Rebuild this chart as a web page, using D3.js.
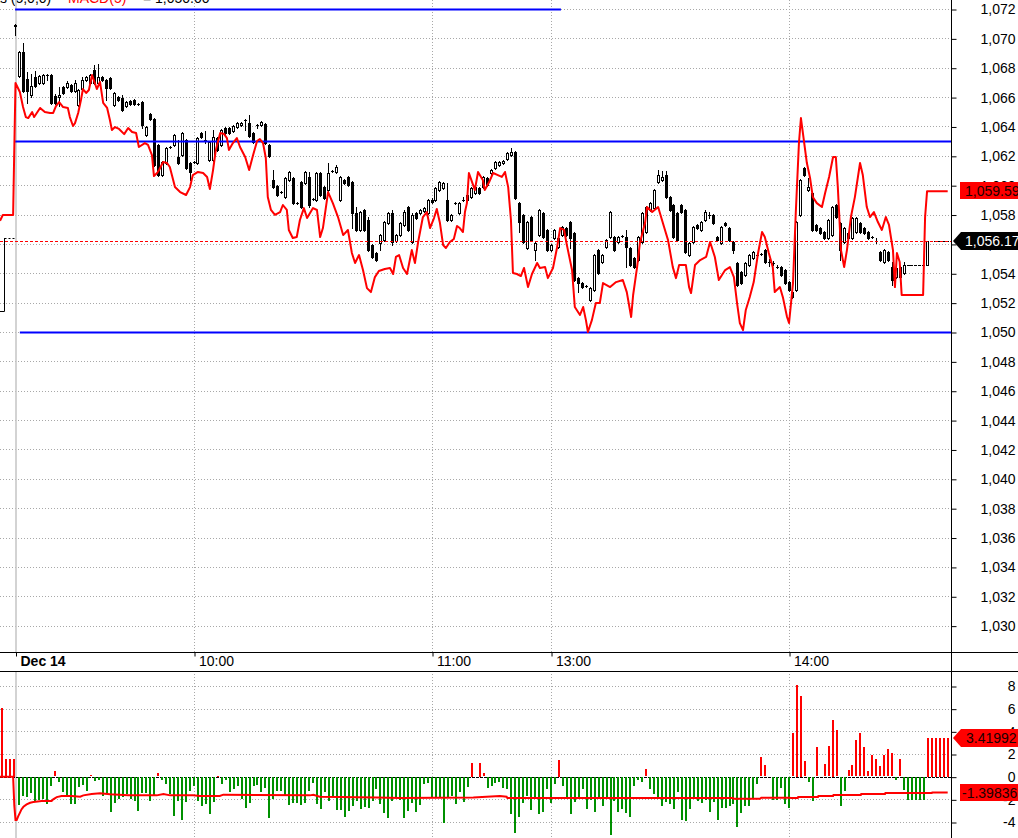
<!DOCTYPE html>
<html><head><meta charset="utf-8">
<script src="https://cdn.jsdelivr.net/npm/d3@7/dist/d3.min.js"></script>
<style>body{margin:0;background:#fff}svg{display:block;font-family:"Liberation Sans",Arial,sans-serif}</style>
</head><body><svg id="c" width="1018" height="838"></svg>
<script>
// ---------- DATA ----------
const open = [
1070.91,1067.44,1069.07,1067.23,1066.14,1067.37,1066.96,1066.96,1067.50,1067.50,
1066.07,1066.00,1066.69,1066.69,1066.82,1066.41,1065.46,1066.55,1067.16,1066.96,
1067.84,1066.96,1067.37,1067.16,1067.30,1065.46,1066.00,1065.94,1065.39,1065.73,
1065.80,1065.53,1065.66,1063.42,1064.85,1064.51,1062.74,1060.69,1061.51,1062.60,
1062.74,1061.92,1062.05,1063.08,1061.51,1061.58,1061.51,1063.55,1063.08,1061.71,
1061.71,1063.21,1062.74,1063.89,1063.89,1063.69,1063.96,1064.10,1064.44,1064.23,
1063.55,1064.10,1064.10,1064.17,1062.74,1060.35,1059.94,1059.53,1059.19,1060.35,
1060.49,1058.78,1060.21,1060.15,1060.56,1059.06,1058.99,1060.83,1059.87,1059.67,
1060.97,1060.90,1058.99,1060.35,1060.56,1060.21,1058.10,1056.95,1058.31,1057.63,
1055.92,1055.38,1056.06,1056.26,1057.42,1058.10,1056.20,1056.60,1057.29,1058.51,
1056.13,1058.10,1058.10,1058.24,1058.10,1058.99,1058.99,1059.67,1059.80,1058.99,
1057.63,1058.78,1058.10,1058.99,1058.99,1059.19,1059.46,1059.80,1059.87,1060.49,
1060.83,1061.17,1061.37,1061.51,1061.78,1062.05,1062.26,1058.78,1057.97,1055.72,
1057.83,1055.58,1056.60,1058.10,1056.95,1055.58,1056.40,1055.79,1056.60,1057.08,
1057.49,1056.74,1053.67,1053.33,1053.13,1052.18,1052.86,1055.58,1054.77,1055.79,
1056.47,1056.47,1056.13,1056.54,1056.47,1055.72,1055.04,1054.90,1056.13,1056.81,
1058.31,1058.44,1060.21,1060.35,1060.69,1059.19,1058.65,1058.10,1058.65,1058.31,
1055.24,1056.13,1057.29,1056.95,1057.63,1057.97,1057.97,1056.47,1056.06,1057.42,
1057.08,1056.13,1054.70,1054.08,1053.88,1054.56,1055.04,1055.24,1055.31,1055.58,
1054.77,1054.70,1054.42,1054.42,1054.22,1053.40,1052.72,1052.86,1057.97,1061.17,
1059.67,1059.46,1057.29,1057.08,1056.81,1056.40,1056.60,1058.65,1057.42,1056.13,
1056.74,1056.40,1056.81,1057.42,1057.08,1056.81,1056.47,1056.20,1055.45,1054.77,
1055.45,1054.42,1053.74,1054.42,1054.02,1054.56,1054.56,1054.56,1054.56,1054.56,
1054.56,1056.17,1056.17,1056.17,1056.17,1056.17];
const high = [
1070.98,1069.14,1069.68,1067.71,1067.57,1067.78,1067.50,1067.57,1067.57,1067.57,
1066.20,1066.69,1066.75,1067.10,1066.89,1067.16,1066.55,1067.37,1067.44,1067.57,
1068.19,1068.25,1067.44,1067.23,1067.37,1066.35,1066.07,1066.14,1065.73,1065.80,
1065.87,1065.60,1065.73,1064.03,1064.92,1064.57,1062.80,1061.65,1062.60,1062.67,
1063.48,1063.08,1063.62,1063.14,1061.58,1061.65,1063.28,1063.62,1063.69,1063.01,
1063.76,1063.28,1063.83,1063.96,1063.96,1064.10,1064.30,1064.30,1064.51,1064.78,
1063.62,1064.17,1064.37,1064.23,1062.80,1061.03,1060.01,1059.60,1060.56,1060.97,
1060.56,1058.85,1060.28,1060.97,1060.90,1059.12,1060.90,1060.90,1059.94,1061.51,
1061.03,1061.37,1060.62,1060.42,1060.62,1060.28,1058.51,1058.24,1058.38,1057.83,
1055.99,1055.45,1056.67,1057.56,1058.17,1058.31,1056.67,1057.49,1058.31,1058.58,
1058.10,1058.17,1058.38,1058.51,1059.06,1059.12,1059.87,1060.28,1060.21,1060.15,
1058.03,1058.85,1058.85,1059.19,1059.40,1059.87,1059.94,1059.87,1060.62,1060.56,
1061.10,1061.65,1061.65,1061.71,1062.26,1062.53,1062.33,1058.85,1058.03,1057.56,
1057.90,1056.13,1058.38,1058.17,1057.01,1055.99,1057.01,1056.47,1057.22,1057.15,
1057.56,1056.81,1053.74,1053.40,1053.20,1053.06,1055.31,1055.65,1055.31,1056.33,
1058.24,1056.54,1056.54,1056.60,1056.95,1055.79,1055.11,1056.54,1058.17,1058.58,
1058.85,1059.74,1061.03,1060.97,1060.97,1059.26,1058.72,1058.17,1058.72,1058.38,
1056.13,1057.22,1057.35,1057.56,1058.31,1058.17,1058.03,1056.54,1057.22,1057.49,
1057.15,1056.20,1054.77,1054.15,1054.77,1055.31,1055.52,1055.31,1055.38,1055.65,
1054.97,1054.83,1054.56,1054.49,1054.29,1053.47,1052.79,1057.56,1060.42,1061.24,
1060.49,1059.53,1057.35,1057.15,1056.88,1057.70,1058.58,1058.72,1057.49,1057.15,
1056.81,1057.83,1057.83,1057.49,1057.15,1056.88,1056.54,1056.40,1055.52,1055.65,
1055.52,1054.77,1054.42,1054.49,1054.77,1054.56,1054.56,1054.56,1054.56,1054.56,
1056.17,1056.17,1056.17,1056.17,1056.17,1056.17];
const low = [
1070.23,1067.37,1066.35,1065.60,1066.00,1066.69,1066.89,1066.89,1067.16,1065.53,
1065.50,1065.39,1066.21,1066.62,1066.35,1066.35,1065.39,1066.48,1067.10,1066.89,
1066.89,1066.89,1067.10,1065.80,1066.55,1065.39,1065.73,1065.05,1065.32,1065.46,
1065.46,1065.46,1063.89,1063.35,1064.44,1061.30,1060.62,1060.62,1061.44,1062.53,
1062.67,1061.44,1061.99,1061.10,1060.35,1061.51,1061.44,1063.21,1062.87,1061.65,
1061.65,1062.33,1062.67,1063.48,1063.48,1063.62,1063.89,1064.03,1063.76,1063.28,
1062.87,1063.89,1064.03,1062.80,1061.92,1059.80,1059.26,1059.46,1059.12,1060.28,
1058.72,1058.72,1058.44,1060.08,1058.51,1058.99,1058.92,1059.26,1059.06,1059.60,
1060.90,1060.83,1058.92,1060.08,1059.94,1057.08,1056.88,1056.88,1056.88,1055.52,
1055.04,1054.83,1055.58,1056.20,1057.35,1055.92,1056.13,1056.54,1057.22,1056.88,
1056.06,1057.69,1058.03,1058.17,1058.03,1058.78,1058.92,1059.60,1059.74,1057.56,
1057.56,1058.72,1058.03,1058.92,1058.92,1059.12,1059.40,1059.40,1059.80,1059.94,
1060.76,1061.10,1061.30,1061.44,1061.71,1061.99,1059.06,1056.81,1056.06,1055.65,
1056.20,1054.90,1056.54,1056.40,1055.52,1055.52,1056.33,1055.72,1056.54,1056.54,
1055.72,1053.47,1052.72,1052.99,1053.06,1052.11,1052.79,1053.95,1054.70,1055.72,
1056.40,1055.52,1056.06,1056.47,1054.42,1054.49,1054.35,1054.83,1056.06,1056.74,
1058.24,1058.38,1060.15,1060.28,1059.12,1058.24,1056.40,1056.20,1058.10,1055.38,
1055.17,1056.06,1057.01,1056.88,1057.56,1057.76,1057.35,1056.20,1055.99,1057.22,
1056.20,1055.38,1053.13,1053.26,1053.81,1054.49,1054.97,1055.17,1055.24,1054.70,
1054.49,1054.56,1054.35,1053.81,1053.26,1052.79,1052.31,1052.79,1057.90,1060.62,
1059.60,1056.88,1056.88,1056.67,1056.33,1056.33,1056.54,1057.76,1054.90,1056.06,
1056.33,1056.33,1056.74,1056.74,1056.67,1056.33,1056.40,1056.06,1054.83,1054.70,
1054.83,1053.20,1053.67,1053.67,1053.95,1054.56,1054.56,1054.56,1054.56,1054.56,
1054.56,1056.17,1056.17,1056.17,1056.17,1056.17];
const close = [
1070.84,1069.07,1066.41,1066.41,1066.75,1066.75,1067.44,1067.50,1067.50,1065.60,
1065.60,1066.14,1066.28,1066.96,1066.41,1066.96,1066.48,1067.16,1067.37,1067.50,
1066.96,1067.37,1067.16,1066.62,1066.62,1066.28,1065.80,1065.12,1065.66,1065.53,
1065.53,1065.53,1064.10,1063.96,1064.51,1061.37,1060.69,1061.58,1062.53,1062.60,
1063.42,1061.51,1063.55,1061.17,1060.90,1061.58,1063.21,1063.28,1063.08,1062.94,
1063.28,1062.40,1063.76,1063.55,1063.55,1064.03,1064.23,1064.23,1064.44,1063.35,
1062.94,1064.10,1064.30,1062.87,1061.99,1059.87,1059.33,1059.53,1060.49,1060.90,
1058.78,1058.78,1058.51,1060.90,1058.65,1059.06,1060.83,1059.33,1059.12,1060.83,
1060.97,1061.24,1060.56,1060.15,1060.01,1058.10,1056.95,1058.17,1056.95,1055.58,
1055.11,1054.90,1056.60,1057.49,1058.10,1056.13,1056.60,1057.42,1058.17,1056.95,
1057.97,1057.76,1058.31,1058.44,1058.99,1058.85,1059.80,1060.21,1060.15,1057.63,
1057.97,1058.78,1058.78,1058.99,1059.33,1059.80,1059.87,1059.46,1060.56,1060.01,
1061.03,1061.58,1061.58,1061.65,1062.19,1062.26,1059.12,1057.49,1056.13,1057.49,
1056.26,1056.06,1058.31,1056.47,1055.58,1055.92,1056.95,1056.40,1057.15,1056.60,
1056.40,1053.54,1053.33,1053.06,1053.13,1052.99,1055.24,1054.02,1055.24,1056.26,
1058.17,1055.58,1056.47,1056.54,1055.79,1054.56,1054.42,1056.47,1058.10,1058.51,
1058.78,1059.67,1060.69,1060.56,1059.19,1058.31,1056.47,1056.26,1058.17,1055.45,
1056.06,1057.15,1057.08,1057.49,1058.17,1057.97,1057.42,1056.26,1057.15,1057.29,
1056.26,1055.58,1053.20,1053.33,1054.70,1055.24,1055.45,1055.24,1055.31,1054.77,
1054.77,1054.70,1054.42,1053.88,1053.33,1052.86,1052.38,1057.49,1060.35,1060.69,
1059.87,1056.95,1056.95,1056.74,1056.40,1057.63,1058.51,1057.83,1055.58,1057.08,
1056.40,1057.76,1057.76,1056.81,1056.74,1056.40,1056.47,1056.20,1054.90,1055.58,
1054.90,1053.54,1054.36,1053.74,1054.56,1054.56,1054.56,1054.56,1054.56,1054.56,
1056.17,1056.17,1056.17,1056.17,1056.17,1056.17];

// indicator line (bar position, value)
const lineIdx = [-3.9,-3.2,-0.6,-0.4,0,1.1,1.9,2.6,3.2,4.2,4.7,6.2,7.4,8.7,9.5,10.2,11.0,12.0,13.2,13.7,14.5,15.0,15.8,16.5,17.0,17.8,18.5,19.3,20.0,20.5,21.3,22.1,23.1,23.8,24.3,25.1,26.1,27.4,28.4,29.4,30.4,31.1,32.6,33.4,34.4,34.9,35.7,36.2,37.2,38.2,38.9,40.2,41.5,43.0,44.0,44.7,46.0,47.3,48.3,49.0,49.8,50.5,51.6,52.6,53.3,53.8,54.8,55.8,56.6,57.9,58.9,59.9,60.9,61.6,62.4,63.1,63.6,64.4,65.4,66.7,67.4,68.4,68.9,69.9,70.9,71.7,72.7,73.5,75.0,76.0,76.8,77.5,78.8,80.0,81.3,82.6,83.8,84.8,85.6,86.6,87.6,88.6,89.6,90.6,91.6,93.1,94.4,95.2,95.9,96.7,97.7,98.7,99.9,100.7,101.5,102.7,103.7,104.5,105.5,106.2,107.0,107.8,108.5,109.5,110.5,111.3,112.0,112.8,113.3,113.8,114.3,115.1,115.8,116.6,117.8,118.3,119.4,120.4,121.6,122.6,123.4,124.2,124.9,125.4,126.4,127.4,128.2,129.2,130.2,131.5,132.2,133.5,134.2,135.5,136.5,137.3,138.3,139.0,140.3,141.0,142.3,143.1,143.8,144.3,145.3,146.3,147.3,148.1,149.9,151.4,153.1,154.1,155.2,155.7,156.7,157.4,158.7,159.2,160.5,162.0,163.5,164.5,165.7,166.5,167.3,169.0,169.8,170.3,171.3,172.6,174.1,175.1,176.3,177.3,178.9,180.1,181.1,181.9,182.6,183.4,184.1,185.1,186.1,187.2,188.2,188.9,189.9,190.9,191.4,192.7,193.5,194.5,195.0,196.0,196.7,197.5,198.0,198.5,199.5,200.3,201.0,202.0,203.3,204.1,205.1,206.1,206.8,207.3,208.1,208.9,209.6,210.6,211.6,212.9,213.6,214.6,215.4,216.4,217.4,218.4,219.4,220.2,221.2,221.7,222.2,222.9,223.4,228.8,229.3,229.8,235.0];
const lineVals = [1057.58,1057.97,1057.97,1061.03,1066.96,1066.35,1065.32,1064.64,1064.57,1064.98,1064.64,1065.26,1064.98,1064.92,1064.92,1065.39,1065.66,1065.32,1065.26,1064.64,1064.03,1064.23,1064.92,1065.80,1066.55,1066.28,1066.48,1067.50,1066.96,1066.55,1067.03,1065.60,1065.26,1064.44,1063.76,1063.96,1063.83,1063.48,1063.89,1063.62,1063.55,1062.60,1062.87,1062.74,1062.05,1060.62,1060.83,1061.03,1061.58,1061.51,1061.24,1059.87,1059.53,1059.33,1059.87,1060.69,1060.90,1060.83,1060.56,1059.74,1061.03,1062.40,1063.55,1063.48,1063.21,1062.40,1062.87,1063.21,1062.60,1061.92,1061.03,1062.05,1063.01,1063.14,1062.87,1061.85,1059.19,1058.31,1057.97,1058.17,1058.65,1058.31,1056.95,1056.40,1056.47,1057.63,1058.44,1057.76,1058.44,1058.31,1056.47,1057.08,1059.53,1058.78,1057.83,1056.60,1056.95,1055.38,1054.70,1055.24,1054.22,1052.99,1052.72,1053.74,1054.15,1054.29,1054.36,1053.95,1055.11,1055.24,1054.36,1053.95,1055.58,1054.70,1056.13,1057.83,1058.17,1057.08,1057.76,1058.38,1057.42,1055.92,1055.72,1056.13,1056.33,1057.22,1057.08,1056.81,1058.17,1058.78,1060.83,1060.21,1059.67,1060.90,1060.35,1059.67,1060.21,1060.83,1060.69,1060.56,1060.90,1059.87,1057.63,1054.02,1053.95,1053.81,1054.36,1053.06,1053.95,1054.70,1054.36,1054.42,1053.67,1054.36,1055.72,1057.08,1056.95,1055.92,1054.22,1051.70,1051.16,1051.70,1050.81,1050.00,1050.81,1051.97,1051.97,1053.33,1053.06,1053.40,1053.54,1052.72,1051.02,1052.52,1054.42,1056.06,1057.42,1058.51,1058.17,1058.51,1057.15,1056.26,1054.42,1053.67,1054.56,1054.56,1053.06,1052.65,1054.56,1054.90,1055.11,1056.13,1055.11,1053.54,1054.22,1054.42,1053.74,1051.97,1050.61,1050.13,1051.50,1052.38,1053.40,1055.38,1056.81,1056.47,1055.38,1054.42,1052.72,1053.06,1052.31,1051.02,1050.61,1053.33,1058.10,1062.87,1064.57,1063.55,1061.51,1060.49,1059.19,1058.78,1058.51,1059.47,1060.56,1061.92,1061.92,1059.87,1055.58,1054.42,1055.58,1057.83,1059.19,1061.51,1060.69,1058.51,1057.83,1058.17,1057.49,1056.95,1057.83,1057.29,1055.58,1053.06,1055.38,1054.77,1052.52,1052.52,1057.83,1059.59,1059.59];

// oscillator histogram per bar
const histVals = [
0,-2.5,-1.65,-1.8,-1.4,-2.1,-2.0,-1.95,-2.4,-0.83,
0.47,-0.47,-1.3,-1.65,-2.4,-2.4,-0.9,-0.68,-1.2,0.12,
-0.38,-0.27,-1.7,-1.5,-3.1,-2.3,-1.9,-1.8,-1.5,-1.9,
-2.1,-3.0,-1.4,-1.4,-2.1,-1.7,0.3,-0.3,-0.65,-1.5,
-3.4,-2.15,-3.8,-2.25,-1.2,-0.75,-2.15,-2.6,-2.4,-3.25,
-2.25,0.1,-0.6,-0.3,-1.3,-1.1,-0.83,-1.9,-2.7,-2.3,
-0.83,-0.7,-1.35,-0.95,-3.6,-1.9,-1.27,-1.27,-1.55,-2.45,
-2.3,-2.3,-2.5,-2.3,-1.2,-0.53,-2.35,-2.85,-1.3,-2.1,
-1.65,-2.95,-2.95,-3.55,-3.0,-2.6,-2.15,-2.8,-2.65,-2.7,
-2.1,-1.05,-2.4,-3.2,-3.65,-2.15,-1.8,-2.0,-3.65,-3.0,
-2.3,-3.05,-2.5,-0.6,-0.53,-1.83,-1.83,-1.8,-4.07,-1.8,
-1.65,-2.4,-1.35,-2.2,-0.9,1.2,0,1.25,0.3,-0.97,
-0.83,-0.53,-0.44,-0.95,-1.05,-3.25,-4.95,-3.55,-2.3,-1.65,
-2.9,-1.8,-3.3,-3.1,-1.05,-2.3,-0.6,1.47,-0.77,-1.9,
-3.25,-2.25,-1.8,-1.1,-2.85,-2.05,-3.05,-1.83,-2.55,-1.9,
-5.1,-2.15,-3.1,-2.85,-3.2,-3.55,-0.75,-0.3,-0.47,0.65,
-1.05,-1.5,-1.9,-2.6,-2.25,-2.35,-2.85,-1.35,-3.8,-3.9,
-2.8,-1.95,-2.1,-2.3,-2.0,-3.05,-2.25,-3.8,-2.7,-2.75,
-2.55,-2.35,-4.4,-3.2,-2.55,-2.55,-1.95,-0.6,1.7,1.0,
0,-2.07,-2.07,-1.0,-2.4,-2.77,3.83,8.08,7.14,1.36,
-0.47,-2.15,2.6,0,1.09,2.68,4.99,4.1,-2.54,-1.27,
0.56,1.0,3.22,3.83,2.6,0.47,1.89,1.53,0.91,1.89,
2.42,2.06,-0.3,1.53,-1.18,-2.07,-2.07,-2.07,-2.07,-2.07,
3.42,3.42,3.42,3.42,3.42,3.42];
const prevHistIdx = [-3.5,-2.5,-1.5,-0.5];
const prevHistVals = [6.1,1.6,1.6,1.6];

// oscillator signal line (bar position, value)
const maIdx = [-4,-0.6,-0.3,0,0.3,0.7,1.1,1.5,2,2.8,3.7,4.5,6.6,9.1,9.5,10.4,11.6,14.2,16.3,17.1,19.2,21.3,23.8,28.4,35.6,37.3,39,44.8,46.5,51.5,52.4,74.2,75.1,76.7,91,96.9,115.4,122.1,123.8,124,180.9,181,187.7,188,195.2,195.5,197.2,197.3,202.3,202.4,206.1,206.2,213.1,213.2,219.2,219.3,231,231.1,235];
const maVals = [0,0,-2.54,-3.83,-3.83,-3.48,-3.19,-2.89,-2.66,-2.45,-2.3,-2.24,-2.15,-2.15,-2.0,-1.8,-1.71,-1.71,-1.77,-1.65,-1.53,-1.47,-1.56,-1.65,-1.65,-1.53,-1.65,-1.65,-1.71,-1.71,-1.59,-1.65,-1.59,-1.77,-1.83,-1.89,-1.83,-1.71,-1.77,-1.89,-1.89,-1.95,-1.95,-1.86,-1.86,-1.89,-1.89,-1.8,-1.8,-1.71,-1.71,-1.62,-1.62,-1.53,-1.53,-1.45,-1.45,-1.40,-1.40];

// previous session bar
const prevBarIdx = -2.65, prevBarHigh = 1056.4, prevBarLow = 1051.4;

// horizontal levels
const levelPrices = [1072, 1063, 1050];
const levelFrom = [-0.1, -0.1, 1.1];
const levelTo = [137.5, 240, 240];

const priceTicks = [1072,1070,1068,1066,1064,1062,1060,1058,1056,1054,1052,1050,1048,1046,1044,1042,1040,1038,1036,1034,1032,1030];
const histTicks = [8,6,4,2,0,-2,-4];
const timeTickIdx = [0,45,105,135,195];
const timeTickLabels = ["Dec 14","10:00","11:00","13:00","14:00"];
const lastPrice = 1056.17, lineLast = 1059.59, histLast = 3.41992, maLast = -1.39836;

// ---------- DRAW ----------
const FONT = '"Liberation Sans", Arial, sans-serif';
const svg = d3.select("#c");
const AX = 951;
const x = d3.scaleLinear().domain([0,235]).range([15.5,947.7]);
const yMain = d3.scaleLinear().domain([1050,1072]).range([332,9]);
const yLow = d3.scaleLinear().domain([-4,8]).range([822,686]);
const GRID = "#a8a8a8";

const defs = svg.append("defs");
defs.append("clipPath").attr("id","cm").append("rect").attr("x",0).attr("y",0).attr("width",AX).attr("height",652);
defs.append("clipPath").attr("id","cl").append("rect").attr("x",0).attr("y",672).attr("width",AX).attr("height",166);

// top legend text (mostly clipped)
const tt = svg.append("text").attr("y",3).attr("font-size",14).attr("font-family",FONT);
tt.append("tspan").attr("x",-4).attr("fill","#000").text("ts (5,0,0)");
tt.append("tspan").attr("x",68).attr("fill","#ff0000").text("MACD(5)");
tt.append("tspan").attr("x",143).attr("fill","#000").text("= 1,050.00");

// ---- main panel ----
const gm = svg.append("g").attr("clip-path","url(#cm)");
gm.selectAll("line.hg").data(priceTicks).join("line")
  .attr("x1",0).attr("x2",AX).attr("y1",d=>Math.round(yMain(d))+0.5).attr("y2",d=>Math.round(yMain(d))+0.5)
  .attr("stroke",GRID).attr("stroke-dasharray","1,2");
gm.selectAll("line.vg").data(timeTickIdx.slice(1)).join("line")
  .attr("x1",d=>Math.round(x(d))+0.5).attr("x2",d=>Math.round(x(d))+0.5).attr("y1",0).attr("y2",652)
  .attr("stroke",GRID).attr("stroke-dasharray","1,2");
gm.append("line").attr("x1",16).attr("x2",16).attr("y1",0).attr("y2",652).attr("stroke","#c4c4c4").attr("stroke-width",1.5);

// previous bar
const pbx = Math.floor(x(prevBarIdx))+0.5;
gm.append("line").attr("x1",pbx).attr("x2",pbx).attr("y1",yMain(prevBarHigh)).attr("y2",yMain(prevBarLow)).attr("stroke","#000");
gm.append("line").attr("x1",0).attr("x2",pbx).attr("y1",Math.round(yMain(prevBarLow))+0.5).attr("y2",Math.round(yMain(prevBarLow))+0.5).attr("stroke","#000");
gm.append("line").attr("x1",pbx).attr("x2",x(-0.2)).attr("y1",Math.round(yMain(prevBarHigh))+0.5).attr("y2",Math.round(yMain(prevBarHigh))+0.5).attr("stroke","#000").attr("stroke-dasharray","2,2");

// candles
const candles = open.map((o,i)=>({i,o,h:high[i],l:low[i],c:close[i]}));
const cg = gm.append("g");
candles.forEach(d=>{
  const px = Math.floor(x(d.i));
  const yH = Math.round(yMain(d.h)), yL = Math.round(yMain(d.l));
  const yT = Math.round(yMain(Math.max(d.o,d.c))), yB = Math.round(yMain(Math.min(d.o,d.c)));
  if (yL > yH) cg.append("line").attr("x1",px+0.5).attr("x2",px+0.5).attr("y1",yH).attr("y2",yL+1).attr("stroke","#000");
  if (yB - yT < 1) {
    cg.append("rect").attr("x",px-1).attr("y",yT).attr("width",3).attr("height",1).attr("fill","#000");
  } else if (d.c > d.o) {
    cg.append("rect").attr("x",px-0.5).attr("y",yT+0.5).attr("width",2).attr("height",yB-yT).attr("fill","#fff").attr("stroke","#000");
  } else {
    cg.append("rect").attr("x",px-1).attr("y",yT).attr("width",3).attr("height",yB-yT+1).attr("fill","#000");
  }
});

// levels
levelPrices.forEach((p,k)=>{
  gm.append("line").attr("x1",x(levelFrom[k])).attr("x2",Math.min(x(levelTo[k]),AX))
    .attr("y1",Math.round(yMain(p))+0.5).attr("y2",Math.round(yMain(p))+0.5)
    .attr("stroke","#0000ff").attr("stroke-width",2);
});
// last price dashed
gm.append("line").attr("x1",0).attr("x2",AX).attr("y1",Math.round(yMain(lastPrice))+0.5).attr("y2",Math.round(yMain(lastPrice))+0.5)
  .attr("stroke","#ff0000").attr("stroke-dasharray","3,2");

// indicator line
const lineData = lineIdx.map((v,k)=>[v,lineVals[k]]);
gm.append("path").datum(lineData)
  .attr("d",d3.line().x(d=>x(d[0])).y(d=>yMain(d[1])))
  .attr("fill","none").attr("stroke","#ff0000").attr("stroke-width",2).attr("stroke-linejoin","round");

// ---- lower panel ----
const gl = svg.append("g").attr("clip-path","url(#cl)");
gl.selectAll("line.hg").data(histTicks.filter(d=>d!==0)).join("line")
  .attr("x1",0).attr("x2",AX).attr("y1",d=>Math.round(yLow(d))+0.5).attr("y2",d=>Math.round(yLow(d))+0.5)
  .attr("stroke",GRID).attr("stroke-dasharray","1,2");
gl.selectAll("line.vg").data(timeTickIdx.slice(1)).join("line")
  .attr("x1",d=>Math.round(x(d))+0.5).attr("x2",d=>Math.round(x(d))+0.5).attr("y1",671).attr("y2",838)
  .attr("stroke",GRID).attr("stroke-dasharray","1,2");
gl.append("line").attr("x1",16).attr("x2",16).attr("y1",671).attr("y2",838).attr("stroke","#c4c4c4").attr("stroke-width",1.5);
gl.append("line").attr("x1",0).attr("x2",AX).attr("y1",Math.round(yLow(0))+0.5).attr("y2",Math.round(yLow(0))+0.5)
  .attr("stroke","#000").attr("stroke-dasharray","3,1");

const bars = histVals.map((v,i)=>({i,v})).concat(prevHistIdx.map((p,k)=>({i:p,v:prevHistVals[k]})));
gl.selectAll("rect.b").data(bars.filter(d=>d.v!==0)).join("rect")
  .attr("x",d=>Math.round(x(d.i))-1).attr("width",2)
  .attr("y",d=>Math.round(yLow(Math.max(d.v,0))))
  .attr("height",d=>Math.max(1,Math.round(Math.abs(yLow(d.v)-yLow(0)))))
  .attr("fill",d=>d.v>0?"#ff0000":"#009000");

const maData = maIdx.map((v,k)=>[v,maVals[k]]);
gl.append("path").datum(maData)
  .attr("d",d3.line().x(d=>x(d[0])).y(d=>yLow(d[1])))
  .attr("fill","none").attr("stroke","#ff0000").attr("stroke-width",2);

// ---- frame ----
svg.append("line").attr("x1",0).attr("x2",1018).attr("y1",652.5).attr("y2",652.5).attr("stroke","#000");
svg.append("line").attr("x1",0).attr("x2",1018).attr("y1",671.5).attr("y2",671.5).attr("stroke","#000");
svg.append("line").attr("x1",AX+0.5).attr("x2",AX+0.5).attr("y1",0).attr("y2",838).attr("stroke","#000");

// price axis
const pa = svg.append("g").attr("transform",`translate(${AX+0.5},0.5)`)
  .call(d3.axisRight(yMain).tickValues(priceTicks).tickSize(5).tickFormat(d3.format(",")));
pa.select(".domain").remove();
pa.attr("font-size",14).attr("font-family",FONT);
pa.selectAll("text").attr("x",64).attr("text-anchor","end").attr("fill","#000");

// oscillator axis
const la = svg.append("g").attr("transform",`translate(${AX+0.5},0.5)`)
  .call(d3.axisRight(yLow).tickValues(histTicks).tickSize(5).tickFormat(d=>String(d)));
la.select(".domain").remove();
la.attr("font-size",14).attr("font-family",FONT);
la.selectAll("text").attr("x",64).attr("text-anchor","end").attr("fill","#000");

// time axis
const ta = svg.append("g").attr("transform","translate(0.5,652.5)")
  .call(d3.axisBottom(x).tickValues(timeTickIdx).tickSize(4).tickFormat((d,k)=>timeTickLabels[k]));
ta.select(".domain").remove();
ta.attr("font-size",14).attr("font-family",FONT);
ta.selectAll("text").attr("x",4).attr("y",13.5).attr("dy",0).attr("text-anchor","start").attr("fill","#000")
  .attr("font-weight",(d,k)=>k===0?"bold":"normal");

// value tags
function tag(yv, txt, bg, fg, arrow, tx){
  const y = Math.round(yv);
  const g = svg.append("g");
  if (arrow) g.append("polygon").attr("points",`${AX+2},${y} ${AX+10},${y-9} 1018,${y-9} 1018,${y+9} ${AX+10},${y+9}`).attr("fill",bg);
  else g.append("rect").attr("x",AX+9).attr("y",y-9).attr("width",1018-AX-9).attr("height",17).attr("fill",bg);
  g.append("text").attr("x",tx).attr("y",y).attr("dy","0.36em").attr("font-size",14).attr("font-family",FONT).attr("fill",fg).text(txt);
}
tag(yMain(lineLast), d3.format(",.2f")(lineLast), "#ff0000", "#200000", false, 965);
tag(yMain(lastPrice), d3.format(",.2f")(lastPrice), "#000000", "#ffffff", true, 965);
tag(yLow(histLast), histLast.toFixed(5), "#ff0000", "#200000", true, 966);
tag(yLow(maLast), maLast.toFixed(5).replace("−","-"), "#ff0000", "#200000", false, 962);
</script></body></html>
